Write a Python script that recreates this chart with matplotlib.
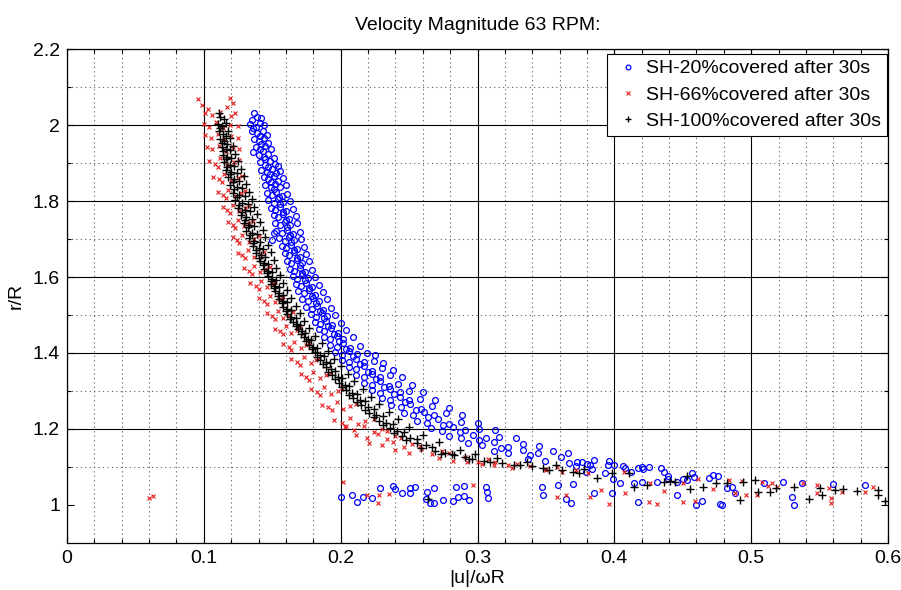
import numpy as np
import matplotlib
matplotlib.use('Agg')
import matplotlib.pyplot as plt
import matplotlib.ticker as ticker

plt.rcParams['font.family'] = ['Liberation Sans', 'DejaVu Sans']

# (|u|/wR, r/R) pairs
blue_band = [
    (0.137, 2.031), (0.139, 2.022), (0.142, 2.018), (0.135, 2.012),
    (0.134, 2.004), (0.138, 1.996), (0.141, 2.006), (0.144, 1.999), (0.136, 1.991),
    (0.135, 1.983), (0.139, 1.978), (0.143, 1.985), (0.146, 1.975), (0.141, 1.971),
    (0.137, 1.962), (0.140, 1.957), (0.144, 1.965), (0.147, 1.953), (0.142, 1.949),
    (0.138, 1.943), (0.141, 1.936), (0.145, 1.945), (0.149, 1.938), (0.143, 1.931), (0.136, 1.930),
    (0.140, 1.922), (0.144, 1.917), (0.147, 1.925), (0.151, 1.914), (0.145, 1.911),
    (0.141, 1.903), (0.145, 1.896), (0.148, 1.905), (0.152, 1.898), (0.154, 1.892), (0.147, 1.889),
    (0.142, 1.882), (0.146, 1.877), (0.150, 1.884), (0.153, 1.875), (0.156, 1.879), (0.148, 1.871),
    (0.144, 1.862), (0.147, 1.857), (0.151, 1.865), (0.154, 1.853), (0.158, 1.860), (0.149, 1.851),
    (0.145, 1.843), (0.149, 1.836), (0.152, 1.845), (0.156, 1.838), (0.160, 1.842), (0.151, 1.832),
    (0.146, 1.822), (0.150, 1.817), (0.153, 1.825), (0.157, 1.814), (0.161, 1.819), (0.155, 1.811),
    (0.147, 1.803), (0.151, 1.796), (0.154, 1.805), (0.158, 1.798), (0.163, 1.801), (0.156, 1.792),
    (0.149, 1.782), (0.152, 1.777), (0.156, 1.784), (0.160, 1.775), (0.165, 1.779), (0.158, 1.771),
    (0.151, 1.762), (0.154, 1.757), (0.158, 1.765), (0.162, 1.753), (0.167, 1.760), (0.160, 1.751),
    (0.152, 1.743), (0.156, 1.736), (0.159, 1.745), (0.163, 1.738), (0.168, 1.742), (0.161, 1.732),
    (0.153, 1.722), (0.157, 1.717), (0.161, 1.725), (0.165, 1.714), (0.170, 1.719), (0.163, 1.711), (0.151, 1.716),
    (0.155, 1.703), (0.159, 1.696), (0.162, 1.705), (0.166, 1.698), (0.171, 1.701), (0.164, 1.692), (0.150, 1.697),
    (0.157, 1.682), (0.160, 1.677), (0.164, 1.684), (0.168, 1.675), (0.173, 1.679), (0.166, 1.671),
    (0.159, 1.662), (0.162, 1.657), (0.166, 1.665), (0.170, 1.653), (0.175, 1.660), (0.168, 1.651),
    (0.161, 1.643), (0.164, 1.636), (0.168, 1.645), (0.172, 1.638), (0.177, 1.642), (0.170, 1.632),
    (0.163, 1.622), (0.166, 1.617), (0.170, 1.625), (0.174, 1.614), (0.179, 1.619), (0.172, 1.611),
    (0.165, 1.603), (0.168, 1.596), (0.172, 1.605), (0.176, 1.598), (0.181, 1.601), (0.174, 1.592),
    (0.167, 1.582), (0.171, 1.577), (0.175, 1.584), (0.179, 1.575), (0.184, 1.579), (0.177, 1.571),
    (0.169, 1.562), (0.173, 1.557), (0.177, 1.565), (0.181, 1.553), (0.187, 1.560), (0.179, 1.551),
    (0.172, 1.543), (0.176, 1.536), (0.180, 1.545), (0.184, 1.538), (0.190, 1.542), (0.182, 1.532),
    (0.175, 1.522), (0.179, 1.517), (0.183, 1.525), (0.187, 1.514), (0.193, 1.519), (0.185, 1.511),
    (0.178, 1.503), (0.182, 1.496), (0.186, 1.505), (0.190, 1.498), (0.196, 1.501), (0.188, 1.492),
    (0.181, 1.482), (0.185, 1.477), (0.189, 1.484), (0.194, 1.475), (0.200, 1.479), (0.191, 1.471),
    (0.184, 1.462), (0.188, 1.457), (0.193, 1.465), (0.198, 1.453), (0.204, 1.460), (0.195, 1.451),
    (0.188, 1.443), (0.192, 1.436), (0.197, 1.445), (0.202, 1.438), (0.209, 1.442), (0.199, 1.432),
    (0.192, 1.422), (0.197, 1.417), (0.202, 1.425), (0.207, 1.414), (0.214, 1.419), (0.204, 1.411),
    (0.196, 1.403), (0.201, 1.396), (0.206, 1.405), (0.212, 1.398), (0.219, 1.401), (0.225, 1.394), (0.209, 1.392),
    (0.201, 1.382), (0.206, 1.377), (0.211, 1.384), (0.217, 1.375), (0.224, 1.379), (0.231, 1.373), (0.214, 1.371),
    (0.206, 1.362), (0.211, 1.357), (0.217, 1.365), (0.223, 1.353), (0.230, 1.360), (0.238, 1.356), (0.220, 1.351),
    (0.211, 1.343), (0.217, 1.336), (0.223, 1.345), (0.229, 1.338), (0.236, 1.342), (0.245, 1.337), (0.226, 1.332),
    (0.217, 1.322), (0.223, 1.317), (0.229, 1.325), (0.235, 1.314), (0.242, 1.319), (0.252, 1.316), (0.232, 1.311),
    (0.223, 1.303), (0.229, 1.296), (0.236, 1.305), (0.243, 1.298), (0.250, 1.301), (0.260, 1.297), (0.239, 1.292),
    (0.230, 1.282), (0.236, 1.277), (0.243, 1.284), (0.250, 1.275), (0.258, 1.279), (0.269, 1.276), (0.247, 1.271),
    (0.237, 1.262), (0.244, 1.257), (0.251, 1.265), (0.259, 1.253), (0.267, 1.260), (0.279, 1.256), (0.255, 1.251),
    (0.246, 1.243), (0.253, 1.236), (0.261, 1.245), (0.268, 1.238), (0.277, 1.242), (0.289, 1.237), (0.264, 1.232),
    (0.256, 1.222), (0.263, 1.217), (0.271, 1.225), (0.279, 1.214), (0.288, 1.219), (0.300, 1.216), (0.275, 1.211),
    (0.266, 1.203), (0.274, 1.196), (0.282, 1.205), (0.291, 1.198), (0.301, 1.201), (0.313, 1.197), (0.287, 1.192),
    (0.279, 1.182), (0.288, 1.177), (0.297, 1.184), (0.306, 1.175), (0.316, 1.179), (0.328, 1.176), (0.301, 1.171),
    (0.293, 1.162), (0.303, 1.157), (0.312, 1.165), (0.322, 1.153), (0.333, 1.160), (0.345, 1.156), (0.317, 1.151),
    (0.312, 1.143), (0.322, 1.136), (0.333, 1.145), (0.344, 1.138), (0.355, 1.142), (0.366, 1.137), (0.338, 1.132),
    (0.337, 1.122), (0.349, 1.117), (0.361, 1.125), (0.373, 1.114), (0.385, 1.119), (0.396, 1.116), (0.367, 1.111),
    (0.372, 1.103), (0.384, 1.096), (0.395, 1.105), (0.408, 1.098), (0.420, 1.101), (0.434, 1.097),
]
blue_tail = [
    (0.376, 1.113), (0.380, 1.108), (0.382, 1.105), (0.379, 1.087), (0.393, 1.084),
    (0.400, 1.105), (0.406, 1.103), (0.412, 1.087), (0.417, 1.097), (0.421, 1.095),
    (0.425, 1.100), (0.414, 1.058), (0.420, 1.061), (0.404, 1.058), (0.399, 1.068),
    (0.431, 1.061), (0.436, 1.087), (0.439, 1.076), (0.439, 1.068), (0.446, 1.061),
    (0.450, 1.068), (0.453, 1.066), (0.457, 1.084), (0.458, 1.074), (0.469, 1.071),
    (0.472, 1.079), (0.476, 1.076), (0.482, 1.045), (0.486, 1.047), (0.488, 1.032),
    (0.509, 1.058), (0.523, 1.061), (0.537, 1.058), (0.560, 1.055), (0.583, 1.053),
]
blue_low = [
    (0.200, 1.021), (0.208, 1.026), (0.212, 1.008), (0.216, 1.021), (0.223, 1.018),
    (0.229, 1.045), (0.238, 1.050), (0.240, 1.042), (0.245, 1.032), (0.251, 1.045),
    (0.254, 1.047), (0.251, 1.032), (0.262, 1.016), (0.263, 1.034), (0.265, 1.005),
    (0.268, 1.045), (0.268, 1.005), (0.275, 1.013), (0.284, 1.047), (0.282, 1.011),
    (0.286, 1.021), (0.290, 1.050), (0.290, 1.024), (0.294, 1.013), (0.306, 1.047),
    (0.307, 1.034), (0.308, 1.018), (0.347, 1.047), (0.348, 1.026), (0.359, 1.053),
    (0.365, 1.016), (0.368, 1.005), (0.370, 1.055), (0.385, 1.032), (0.398, 1.032),
    (0.417, 1.008), (0.446, 1.026), (0.460, 1.000), (0.464, 1.011), (0.477, 1.003),
    (0.479, 1.000), (0.530, 1.021), (0.531, 1.000),
]

red_band = [
    (0.096, 2.068), (0.119, 2.072), (0.121, 2.058),
    (0.099, 2.052), (0.117, 2.047), (0.103, 2.041),
    (0.101, 2.032), (0.106, 2.026), (0.112, 2.035), (0.120, 2.024), (0.123, 2.031),
    (0.100, 2.004), (0.104, 1.996), (0.109, 2.008), (0.114, 1.993), (0.119, 2.001), (0.125, 1.998),
    (0.101, 1.973), (0.105, 1.967), (0.110, 1.977), (0.115, 1.962), (0.120, 1.971), (0.125, 1.965),
    (0.102, 1.943), (0.106, 1.936), (0.111, 1.946), (0.116, 1.932), (0.121, 1.941), (0.126, 1.937),
    (0.104, 1.905), (0.108, 1.898), (0.112, 1.912), (0.117, 1.894), (0.122, 1.902), (0.126, 1.909), (0.110, 1.889),
    (0.107, 1.864), (0.111, 1.857), (0.115, 1.870), (0.120, 1.853), (0.125, 1.861), (0.128, 1.867), (0.113, 1.849),
    (0.110, 1.824), (0.114, 1.817), (0.118, 1.830), (0.123, 1.813), (0.127, 1.821), (0.130, 1.827), (0.116, 1.809),
    (0.114, 1.784), (0.117, 1.777), (0.121, 1.790), (0.126, 1.773), (0.130, 1.781), (0.133, 1.787), (0.119, 1.769),
    (0.118, 1.744), (0.121, 1.737), (0.125, 1.750), (0.129, 1.733), (0.133, 1.741), (0.136, 1.747), (0.123, 1.729),
    (0.121, 1.704), (0.124, 1.697), (0.128, 1.710), (0.133, 1.693), (0.137, 1.701), (0.140, 1.707), (0.126, 1.689),
    (0.125, 1.664), (0.128, 1.657), (0.132, 1.670), (0.137, 1.653), (0.141, 1.661), (0.144, 1.667), (0.130, 1.649),
    (0.129, 1.624), (0.133, 1.617), (0.137, 1.630), (0.141, 1.613), (0.145, 1.621), (0.148, 1.627), (0.135, 1.609),
    (0.134, 1.584), (0.138, 1.577), (0.142, 1.590), (0.146, 1.573), (0.150, 1.581), (0.152, 1.587), (0.140, 1.569),
    (0.140, 1.544), (0.144, 1.537), (0.148, 1.550), (0.152, 1.533), (0.156, 1.541), (0.158, 1.547), (0.146, 1.529),
    (0.146, 1.504), (0.150, 1.497), (0.154, 1.510), (0.158, 1.493), (0.162, 1.501), (0.165, 1.507), (0.152, 1.489),
    (0.152, 1.464), (0.156, 1.457), (0.160, 1.470), (0.164, 1.453), (0.168, 1.461), (0.170, 1.467), (0.158, 1.449),
    (0.158, 1.424), (0.162, 1.417), (0.166, 1.430), (0.171, 1.413), (0.175, 1.421), (0.177, 1.427), (0.164, 1.409),
    (0.164, 1.384), (0.168, 1.377), (0.173, 1.390), (0.178, 1.373), (0.182, 1.381), (0.184, 1.387), (0.170, 1.369),
    (0.171, 1.344), (0.175, 1.337), (0.180, 1.350), (0.185, 1.333), (0.189, 1.341), (0.192, 1.347), (0.177, 1.329),
    (0.178, 1.304), (0.183, 1.297), (0.188, 1.310), (0.193, 1.293), (0.198, 1.301), (0.201, 1.307), (0.185, 1.289),
    (0.186, 1.264), (0.191, 1.257), (0.197, 1.270), (0.202, 1.253), (0.207, 1.261), (0.211, 1.267), (0.194, 1.249),
    (0.195, 1.224), (0.201, 1.217), (0.207, 1.230), (0.213, 1.213), (0.218, 1.221), (0.224, 1.227), (0.204, 1.209),
    (0.203, 1.204), (0.210, 1.197), (0.217, 1.207), (0.224, 1.193), (0.230, 1.201), (0.234, 1.195),
    (0.211, 1.184), (0.219, 1.177), (0.227, 1.187), (0.234, 1.173), (0.240, 1.181), (0.244, 1.176),
    (0.221, 1.164), (0.230, 1.157), (0.238, 1.167), (0.246, 1.153), (0.252, 1.161), (0.258, 1.156),
    (0.240, 1.144), (0.250, 1.137), (0.259, 1.147), (0.267, 1.133), (0.274, 1.141), (0.279, 1.136),
    (0.272, 1.124), (0.282, 1.117), (0.291, 1.127), (0.300, 1.113), (0.308, 1.121),
    (0.292, 1.114), (0.303, 1.107), (0.313, 1.112), (0.322, 1.105), (0.329, 1.109),
    (0.312, 1.104), (0.325, 1.097), (0.338, 1.102), (0.349, 1.095), (0.358, 1.099),
    (0.350, 1.091), (0.362, 1.086), (0.372, 1.093),
]
red_tail = [
    (0.381, 1.084), (0.390, 1.039), (0.408, 1.032), (0.407, 1.087), (0.426, 1.058),
    (0.436, 1.037), (0.450, 1.058), (0.461, 1.068), (0.472, 1.042), (0.484, 1.066),
    (0.493, 1.063), (0.496, 1.026), (0.504, 1.026), (0.508, 1.061), (0.512, 1.050),
    (0.515, 1.058), (0.519, 1.047), (0.538, 1.058), (0.548, 1.053), (0.548, 1.032),
    (0.557, 1.045), (0.566, 1.034), (0.583, 1.034), (0.589, 1.047),
]
red_low = [
    (0.060, 1.018), (0.063, 1.024), (0.202, 1.061), (0.219, 1.026), (0.227, 1.005),
    (0.228, 1.026), (0.235, 1.029), (0.297, 1.053), (0.358, 1.021), (0.365, 1.026),
    (0.382, 1.021), (0.396, 1.003), (0.425, 1.008), (0.431, 1.003), (0.450, 1.008),
    (0.459, 1.011), (0.488, 1.032), (0.558, 1.018), (0.558, 1.005),
]

black_band = [
    (0.111, 2.032), (0.112, 2.021), (0.115, 2.015),
    (0.110, 2.004), (0.113, 1.997), (0.116, 2.006), (0.112, 1.991),
    (0.111, 1.983), (0.114, 1.977), (0.118, 1.985), (0.116, 1.972),
    (0.112, 1.962), (0.115, 1.957), (0.119, 1.965), (0.117, 1.951), (0.113, 1.953),
    (0.113, 1.943), (0.116, 1.936), (0.121, 1.945), (0.119, 1.933), (0.114, 1.931),
    (0.114, 1.922), (0.117, 1.917), (0.123, 1.925), (0.120, 1.913), (0.116, 1.911),
    (0.115, 1.903), (0.119, 1.896), (0.125, 1.905), (0.122, 1.893), (0.117, 1.890),
    (0.116, 1.882), (0.120, 1.877), (0.127, 1.884), (0.124, 1.873), (0.119, 1.871),
    (0.118, 1.862), (0.122, 1.857), (0.129, 1.865), (0.126, 1.853), (0.121, 1.851),
    (0.119, 1.843), (0.124, 1.836), (0.131, 1.845), (0.128, 1.833), (0.122, 1.831),
    (0.121, 1.822), (0.126, 1.817), (0.133, 1.825), (0.130, 1.813), (0.124, 1.811),
    (0.123, 1.803), (0.128, 1.796), (0.135, 1.805), (0.132, 1.793), (0.126, 1.790),
    (0.125, 1.782), (0.130, 1.777), (0.137, 1.784), (0.134, 1.773), (0.128, 1.771),
    (0.127, 1.762), (0.131, 1.757), (0.139, 1.765), (0.135, 1.753), (0.130, 1.751),
    (0.129, 1.743), (0.133, 1.736), (0.141, 1.745), (0.137, 1.733), (0.132, 1.731),
    (0.131, 1.722), (0.135, 1.717), (0.143, 1.725), (0.139, 1.713), (0.134, 1.711),
    (0.133, 1.703), (0.137, 1.696), (0.145, 1.705), (0.141, 1.693), (0.136, 1.690),
    (0.136, 1.682), (0.140, 1.677), (0.147, 1.684), (0.143, 1.673), (0.138, 1.671),
    (0.138, 1.662), (0.142, 1.657), (0.149, 1.665), (0.145, 1.653), (0.140, 1.651),
    (0.141, 1.643), (0.144, 1.636), (0.151, 1.645), (0.147, 1.633), (0.143, 1.631),
    (0.144, 1.622), (0.147, 1.617), (0.153, 1.625), (0.150, 1.613), (0.146, 1.611),
    (0.147, 1.603), (0.150, 1.596), (0.156, 1.605), (0.153, 1.593), (0.149, 1.590),
    (0.149, 1.582), (0.152, 1.577), (0.158, 1.584), (0.155, 1.573), (0.151, 1.571),
    (0.152, 1.562), (0.155, 1.557), (0.161, 1.565), (0.158, 1.553), (0.154, 1.551),
    (0.155, 1.543), (0.158, 1.536), (0.164, 1.545), (0.161, 1.533), (0.157, 1.531),
    (0.158, 1.522), (0.161, 1.517), (0.167, 1.525), (0.164, 1.513), (0.160, 1.511),
    (0.161, 1.503), (0.164, 1.496), (0.170, 1.505), (0.167, 1.493), (0.163, 1.490),
    (0.165, 1.482), (0.168, 1.477), (0.173, 1.484), (0.170, 1.473), (0.167, 1.471),
    (0.169, 1.462), (0.172, 1.457), (0.177, 1.465), (0.174, 1.453), (0.171, 1.451),
    (0.173, 1.443), (0.176, 1.436), (0.181, 1.445), (0.178, 1.433), (0.175, 1.431),
    (0.177, 1.422), (0.180, 1.417), (0.186, 1.425), (0.183, 1.413), (0.179, 1.411),
    (0.181, 1.403), (0.185, 1.396), (0.191, 1.405), (0.188, 1.393), (0.183, 1.390),
    (0.185, 1.382), (0.189, 1.377), (0.195, 1.384), (0.192, 1.373), (0.187, 1.371),
    (0.189, 1.362), (0.193, 1.357), (0.200, 1.365), (0.196, 1.353), (0.191, 1.351),
    (0.194, 1.343), (0.198, 1.336), (0.205, 1.345), (0.201, 1.333), (0.196, 1.331),
    (0.199, 1.322), (0.203, 1.317), (0.210, 1.325), (0.206, 1.313), (0.201, 1.311),
    (0.204, 1.303), (0.208, 1.296), (0.216, 1.305), (0.212, 1.293), (0.206, 1.290),
    (0.209, 1.282), (0.214, 1.277), (0.222, 1.284), (0.218, 1.273), (0.212, 1.271),
    (0.215, 1.262), (0.220, 1.257), (0.228, 1.265), (0.224, 1.253), (0.218, 1.251),
    (0.221, 1.243), (0.226, 1.236), (0.235, 1.245), (0.231, 1.233), (0.224, 1.231),
    (0.228, 1.222), (0.233, 1.217), (0.242, 1.225), (0.238, 1.213), (0.231, 1.211),
    (0.236, 1.203), (0.241, 1.196), (0.250, 1.205), (0.246, 1.193), (0.239, 1.190),
    (0.245, 1.182), (0.251, 1.177), (0.260, 1.184), (0.256, 1.173), (0.248, 1.171),
    (0.256, 1.162), (0.262, 1.157), (0.272, 1.165), (0.267, 1.153), (0.259, 1.151),
    (0.269, 1.143), (0.276, 1.137), (0.287, 1.145), (0.281, 1.135), (0.273, 1.133),
    (0.283, 1.131), (0.291, 1.127), (0.298, 1.133), (0.294, 1.122),
    (0.296, 1.121), (0.305, 1.117), (0.314, 1.123), (0.309, 1.113),
    (0.318, 1.111), (0.327, 1.106), (0.336, 1.113), (0.331, 1.104),
    (0.340, 1.102), (0.348, 1.097), (0.357, 1.104), (0.352, 1.093),
    (0.362, 1.092), (0.370, 1.087), (0.378, 1.094), (0.374, 1.083),
]
black_tail = [
    (0.387, 1.071), (0.398, 1.084), (0.411, 1.084), (0.414, 1.047), (0.424, 1.053),
    (0.436, 1.061), (0.441, 1.063), (0.444, 1.061), (0.455, 1.042), (0.453, 1.076),
    (0.465, 1.047), (0.474, 1.058), (0.482, 1.058), (0.492, 1.013), (0.494, 1.061),
    (0.503, 1.066), (0.505, 1.034), (0.514, 1.034), (0.518, 1.045), (0.531, 1.047),
    (0.542, 1.016), (0.550, 1.045), (0.552, 1.026), (0.561, 1.039), (0.567, 1.042),
    (0.577, 1.037), (0.593, 1.039), (0.593, 1.026), (0.598, 1.011), (0.264, 1.016),
]

labels = ['SH-20%covered after 30s', 'SH-66%covered after 30s',
          'SH-100%covered after 30s']


def split(*groups):
    pts = np.array([p for g in groups for p in g])
    return pts[:, 0], pts[:, 1]


fig = plt.figure(figsize=(9.01, 5.90), dpi=100)
ax = fig.add_axes([0.0744, 0.0797, 0.9112, 0.8372])

bu, br = split(blue_band, blue_tail, blue_low)
ru, rr = split(red_band, red_tail, red_low)
ku, kr = split(black_band, black_tail)

l1, = ax.plot(bu, br, 'o', ls='none', ms=4.2, mfc='none', mec=(0, 0, 1), mew=0.9)
l2, = ax.plot(ru, rr, 'x', ls='none', ms=3.4, mec=(0.9, 0.1, 0.1), mew=0.8)
l3, = ax.plot(ku, kr, '+', ls='none', ms=5.2, mec='k', mew=1.0)

ax.set_xlim(0, 0.6)
ax.set_ylim(0.9, 2.2)
ax.set_xticks(np.arange(0, 0.61, 0.1))
ax.set_yticks(np.arange(1.0, 2.21, 0.2))
ax.xaxis.set_minor_locator(ticker.MultipleLocator(0.02))
ax.set_yticks(np.arange(1.1, 2.15, 0.2), minor=True)
ax.xaxis.set_major_formatter(ticker.FormatStrFormatter('%g'))
ax.yaxis.set_major_formatter(ticker.FormatStrFormatter('%g'))
ax.tick_params(which='both', direction='in', top=True, right=True,
               labelsize=14, width=0.8)
ax.tick_params(which='major', length=5, pad=5)
ax.tick_params(which='minor', length=3)

ax.grid(True, which='major', color='k', lw=0.8, ls='-')
ax.grid(True, which='minor', color='0.35', lw=0.8, ls=(0, (1, 3)))
# no gridline visible at r/R = 1 in the original
ax.yaxis.get_gridlines()[0].set_visible(False)
ax.set_axisbelow(True)
for s in ax.spines.values():
    s.set_linewidth(0.9)

ax.set_title('Velocity Magnitude 63 RPM:', fontsize=14, pad=14)
ax.set_xlabel('|u|/\u03c9R', fontsize=14, labelpad=2)
ax.set_ylabel('r/R', fontsize=14, labelpad=6)

leg = ax.legend([l1, l2, l3], labels, loc='upper right',
                bbox_to_anchor=(0.999, 0.99), borderaxespad=0,
                fontsize=14, fancybox=False, framealpha=1, edgecolor='k',
                handlelength=1.6, handletextpad=0.15, labelspacing=0.45,
                borderpad=0.3, markerscale=0.8)
leg.get_frame().set_linewidth(0.8)

fig.savefig('out.png', dpi=100)
